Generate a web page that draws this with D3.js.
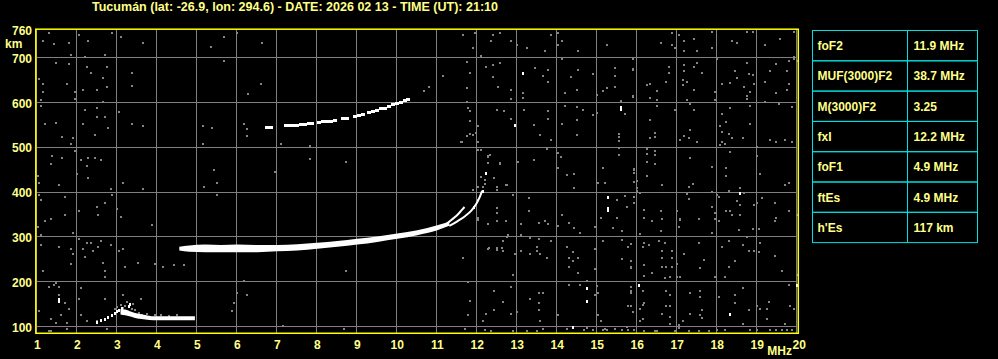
<!DOCTYPE html>
<html lang="en">
<head>
  <meta charset="UTF-8">
  <title>Ionogram Tucumán</title>
  <style>
    body {
      margin: 0;
      padding: 0;
      background-color: #000;
    }
    svg text {
      font-family: "Liberation Sans", Arial, sans-serif;
      font-weight: bold;
      fill: #ffff88;
    }
  </style>
  <script src="https://d3js.org/d3.v7.min.js"></script>
</head>
<body>
  <div id="chart"></div>

  <script>
    const titleText = "Tucumán (lat: -26.9, lon: 294.6) - DATE: 2026 02 13 - TIME (UT): 21:10";

    // axes
    const freqTicks = [1, 2, 3, 4, 5, 6, 7, 8, 9, 10, 11, 12, 13, 14, 15, 16, 17, 18, 19, 20];
    const heightGrid = [100, 200, 300, 400, 500, 600, 700];
    const heightLabels = [100, 200, 300, 400, 500, 600, 700, 760];

    // scaled parameters table
    const paramNames = ["foF2", "MUF(3000)F2", "M(3000)F2", "fxI", "foF1", "ftEs", "h'Es"];
    const paramValues = ["11.9 MHz", "38.7 MHz", "3.25", "12.2 MHz", "4.9 MHz", "4.9 MHz", "117 km"];

    // F2 trace: [freq MHz, lower km, upper km]
    const f2Band = [
      [4.55, 271, 279], [4.8, 268, 282], [5.2, 267, 284], [5.6, 267, 283], [6.0, 267, 284],
      [6.5, 267, 283], [7.0, 269, 283], [7.5, 271, 285], [8.0, 275, 288], [8.5, 279, 292],
      [9.0, 284, 297], [9.5, 290, 302], [10.0, 297, 309], [10.5, 305, 316], [11.0, 316, 327],
      [11.3, 326, 335]
    ];
    // O and X branches near the critical frequencies
    const oBranch = [[11.2, 328], [11.35, 339], [11.5, 350], [11.62, 362], [11.68, 368]];
    const xBranch = [[11.3, 326], [11.5, 336], [11.7, 348], [11.85, 360], [11.98, 376], [12.06, 390], [12.12, 404]];

    // second hop F2 echo: [freq, km]
    const f2Hop2 = [
      [6.75, 546], [6.85, 546], [7.22, 551], [7.3, 551], [7.4, 552], [7.5, 552], [7.6, 553], [7.7, 554],
      [7.8, 555], [7.88, 555], [8.05, 558], [8.15, 559], [8.25, 560], [8.35, 561], [8.45, 562],
      [8.65, 566], [8.75, 567], [8.95, 572], [9.05, 574], [9.15, 575], [9.3, 580], [9.4, 582],
      [9.5, 584], [9.6, 588], [9.7, 590], [9.8, 593], [9.9, 597], [10.0, 600], [10.1, 603],
      [10.2, 606], [10.28, 609]
    ];

    // Es trace
    const esBand = [
      [3.08, 128, 140], [3.2, 126, 139], [3.35, 123, 134], [3.5, 119, 130], [3.7, 117, 127],
      [3.9, 115, 124], [4.2, 115, 124], [4.5, 115, 124], [4.94, 115, 124]
    ];
    const esRise = [
      [2.48, 112], [2.58, 115], [2.68, 118], [2.78, 122], [2.88, 126], [2.95, 131], [3.0, 135],
      [3.05, 138], [3.12, 142], [3.28, 148], [3.32, 152]
    ];

    // scattered grey echoes
    const greyEchoes = [
      [1.28,756],[1.13,738],[1.43,733],[1.78,735],[2.03,753],[2.28,738],[2.88,757],[3.08,748],[3.63,735],[5.68,748],
      [5.33,726],[1.83,708],[2.18,704],[2.68,708],[1.48,690],[1.78,687],[2.25,681],[2.33,668],[2.73,681],[3.38,668],
      [1.03,653],[1.13,643],[1.73,643],[2.13,629],[2.5,629],[2.65,656],[2.73,635],[3.38,638],[1.13,625],[1.08,608],
      [1.93,625],[1.93,610],[2.63,602],[5.68,693],[1.08,593],[2.18,585],[2.48,589],[3.03,580],[2.5,568],[2.68,568],
      [1.18,553],[1.48,556],[2.13,553],[2.78,544],[3.38,553],[3.63,549],[5.13,549],[5.38,544],[1.63,525],[1.88,522],
      [2.43,529],[1.83,509],[5.13,509],[1.93,492],[1.38,482],[1.63,477],[2.08,473],[2.28,477],[2.43,477],[2.58,473],
      [1.33,464],[2.23,460],[1.98,442],[2.28,433],[1.02,438],[1.03,421],[1.53,418],[3.13,422],[3.63,409],[2.83,409],
      [5.43,451],[5.48,421],[5.18,413],[5.48,395],[1.03,395],[1.08,384],[1.68,391],[2.68,378],[2.88,395],[2.03,360],
      [2.48,369],[2.98,364],[2.53,351],[1.68,351],[1.33,342],[1.18,337],[3.08,346],[3.88,328],[1.88,311],[1.08,306],
      [2.03,297],[1.02,324],[1.08,284],[1.53,279],[1.83,275],[1.88,262],[2.23,288],[2.33,288],[2.58,293],[2.83,284],
      [2.13,275],[2.53,279],[2.38,270],[2.18,257],[1.83,241],[2.63,244],[2.68,226],[3.18,235],[3.13,275],[3.03,270],
      [3.53,244],[3.93,241],[4.13,235],[4.43,239],[4.68,239],[2.68,212],[1.13,226],[1.48,199],[1.28,190],[1.53,190],
      [1.43,194],[1.53,172],[1.53,159],[2.08,186],[1.68,153],[1.03,135],[1.78,141],[1.58,126],[1.33,117],[1.73,108],
      [2.08,126],[2.23,113],[2.48,114],[1.48,109],[2.03,163],[2.68,163],[3.13,172],[3.58,163],[5.88,135],[5.93,153],
      [2.73,95],[1.73,95],[1.3,92],[1.34,92],
      [5.99,756],[6.63,735],[6.58,643],[6.28,620],[6.18,553],[6.23,543],[6.23,526],[6.73,544],[7.08,509],[7.83,504],
      [7.83,476],[8.73,468],[6.93,446],[11.63,753],[11.73,692],[11.13,660],[11.73,634],[10.68,628],[10.78,637],[11.73,602],
      [11.78,588],[11.58,513],[11.73,526],[11.83,531],[11.83,559],[8.73,226],[11.63,253],[6.18,203],[6.23,172],[7.13,102],
      [8.68,95],[11.78,200],[11.78,126],[11.68,95],[5.98,177],
      [3.0,145],[3.1,150],[3.15,142],[3.25,155],[3.3,146],[3.38,140],[3.4,152],[3.2,146],[3.45,138],[2.95,140],
      [3.55,132],[3.62,127],[3.75,129],[3.95,126],[4.1,127],[4.3,125],[4.5,126],
      [11.61,514],[12.03,514],[12.09,495],[12.28,482],[12.32,484],[12.28,466],[12.57,466],[12.08,434],[12.03,413],[12.48,413],
      [12.48,406],[12.75,417],[12.9,395],[11.88,407],[12.5,365],[12.03,343],[12.28,331],[12.5,337],[12.75,302],[12.48,276],
      [12.61,276],[12.3,276],[12.15,413],[12.18,420],[12.2,428],
      [11.95,756],[12.38,753],[12.58,757],[12.33,739],[12.83,739],[12.98,729],[13.83,753],[14.03,757],[14.03,730],[14.13,738],
      [14.53,717],[15.23,730],[13.23,722],[13.68,717],[12.08,705],[11.88,722],[11.83,668],[12.23,681],[12.38,684],[12.58,689],
      [12.38,659],[12.53,637],[12.83,629],[12.83,610],[13.13,622],[13.13,611],[13.45,678],[13.78,674],[13.78,647],[13.63,660],
      [14.13,699],[14.33,659],[14.2,623],[14.48,629],[14.53,674],[14.88,665],[14.98,619],[15.13,626],[15.23,634],[15.43,678],
      [15.43,660],[15.43,637],[15.88,674],[15.88,614],[15.58,605],[15.68,576],[15.53,532],[15.53,524],[15.53,516],[15.53,500],
      [15.53,485],[11.83,583],[11.83,561],[11.88,529],[11.98,534],[12.03,549],[12.48,585],[12.68,583],[12.83,565],[13.18,585],
      [13.43,552],[13.58,529],[13.78,583],[13.78,564],[13.83,518],[14.13,553],[14.18,593],[14.48,592],[14.48,562],[14.48,528],
      [14.63,585],[14.88,574],[14.98,577],[12.03,495],[12.28,480],[12.58,464],[12.43,433],[12.73,418],[12.48,413],[12.03,384],
      [13.03,468],[13.43,473],[13.73,497],[14.03,489],[14.08,480],[14.03,455],[14.23,439],[14.43,442],[14.43,410],[15.13,455],
      [15.03,422],[15.18,422],[15.93,452],[15.98,425],[15.98,403],[15.48,384],[15.48,343],[15.68,393],[15.73,369],[15.93,378],
      [15.08,343],[15.38,321],[15.63,315],[13.28,388],[12.88,395],[12.48,366],[12.48,355],[12.28,330],[12.73,337],[13.08,330],
      [13.28,360],[13.53,333],[13.68,337],[13.78,330],[14.03,325],[14.13,351],[14.28,333],[14.43,320],[14.58,311],[14.93,324],
      [12.03,340],[12.78,305],[13.08,306],[13.33,299],[13.53,297],[13.83,293],[12.63,291],[12.63,270],[12.48,273],[12.28,275],
      [12.93,262],[13.08,270],[13.33,262],[13.48,279],[13.48,269],[13.73,253],[13.58,262],[14.23,279],[14.28,253],[14.28,235],
      [14.38,267],[14.53,253],[14.38,247],[14.53,221],[14.93,275],[14.93,230],[15.13,293],[15.63,294],[15.78,279],[15.83,285],
      [15.63,251],[15.83,248],[15.83,232],[12.88,217],[11.83,157],[12.43,180],[12.83,189],[12.63,156],[12.43,138],[12.23,130],
      [12.13,113],[12.83,130],[12.98,133],[13.33,163],[13.53,175],[13.53,153],[13.63,177],[13.53,139],[13.58,113],[14.03,126],
      [14.28,193],[14.58,194],[14.73,203],[14.93,172],[14.98,191],[15.03,175],[15.03,127],[15.08,113],[15.18,95],[15.43,95],
      [15.73,101],[15.83,190],[15.83,180],[15.78,147],[15.88,133],[12.18,93],[12.33,92],[12.88,92],[13.23,92],[13.48,92],
      [13.63,95],[14.23,95],[14.68,93],[14.73,98],[14.88,93],[15.13,93],[15.23,93],[15.63,93],[15.78,93],[15.93,93],
      [16.88,757],[16.88,730],[17.03,753],[17.18,739],[17.43,744],[17.88,758],[18.38,738],[18.48,735],[18.73,758],[18.88,758],
      [19.18,730],[19.58,744],[19.93,758],[19.93,704],[19.93,698],[16.58,735],[16.93,722],[17.18,717],[17.48,717],[17.88,722],
      [15.88,699],[15.88,675],[15.88,616],[16.78,681],[16.78,668],[17.18,684],[17.18,672],[17.43,681],[17.48,690],[17.63,668],
      [17.98,699],[18.73,690],[18.43,672],[18.78,665],[18.88,663],[19.48,687],[19.78,693],[19.33,672],[19.73,672],[19.98,695],
      [16.23,641],[16.33,643],[16.48,628],[16.73,647],[17.13,651],[17.13,641],[17.23,646],[17.43,629],[17.93,625],[18.13,643],
      [18.33,645],[18.48,656],[18.68,637],[18.83,625],[18.73,616],[18.93,643],[19.18,647],[19.48,622],[19.78,643],[19.73,629],
      [16.33,611],[16.48,607],[17.23,607],[17.33,599],[17.93,607],[18.73,610],[19.18,602],[16.48,593],[16.93,584],[17.43,584],
      [18.13,576],[18.33,589],[18.83,593],[19.53,598],[19.88,592],[16.33,562],[16.43,534],[16.43,525],[16.33,522],[17.33,540],
      [17.18,526],[17.28,522],[17.48,513],[17.08,517],[18.13,535],[18.08,549],[18.23,558],[18.28,531],[18.13,513],[18.08,507],
      [18.38,522],[18.63,522],[18.83,553],[18.18,509],[19.33,517],[19.48,512],[19.68,517],[19.88,513],[16.23,498],[16.43,494],
      [16.43,485],[16.23,486],[16.23,468],[16.43,464],[17.33,477],[17.88,458],[18.33,491],[18.98,503],[18.98,482],[18.23,455],
      [18.23,437],[19.08,442],[15.93,451],[15.93,444],[15.93,424],[15.98,410],[16.23,437],[16.63,418],[17.28,413],[17.38,419],
      [17.23,398],[17.28,386],[15.93,391],[15.93,378],[16.08,400],[17.88,401],[18.03,391],[17.98,395],[18.28,404],[18.58,410],
      [18.68,400],[18.48,382],[18.58,373],[18.33,360],[18.58,351],[18.93,373],[18.98,378],[19.13,388],[19.43,376],[19.68,418],
      [19.78,422],[19.78,358],[19.98,351],[16.18,361],[16.18,343],[16.38,337],[16.58,360],[16.63,342],[16.98,360],[17.08,339],
      [17.53,342],[17.88,369],[17.93,355],[17.93,342],[18.03,337],[17.88,311],[18.23,360],[18.38,351],[18.53,317],[18.73,302],
      [18.88,318],[19.03,318],[19.43,337],[19.48,343],[16.08,308],[16.58,315],[17.03,324],[17.08,342],[16.53,293],[16.68,288],
      [15.83,285],[16.18,287],[16.28,284],[16.13,279],[16.63,269],[16.63,254],[16.88,269],[16.88,254],[17.18,264],[17.68,250],
      [17.53,287],[18.28,291],[18.13,279],[18.43,248],[18.63,284],[18.78,270],[19.03,267],[18.93,270],[19.08,288],[19.43,259],
      [15.83,247],[15.83,233],[16.18,239],[16.38,221],[16.63,233],[16.73,235],[16.88,235],[16.98,241],[16.18,214],[16.68,209],
      [16.83,212],[16.98,212],[17.08,212],[17.58,232],[17.93,212],[18.18,212],[18.28,235],[19.63,226],[19.98,217],[15.83,190],
      [15.83,177],[16.13,180],[16.73,180],[16.83,172],[17.33,175],[17.58,180],[17.58,168],[18.03,168],[18.63,186],[18.43,172],
      [19.78,194],[15.83,148],[16.13,150],[16.18,154],[16.08,141],[16.73,148],[16.83,148],[16.83,123],[16.63,129],[17.33,130],
      [17.63,139],[17.58,126],[17.63,120],[18.43,153],[18.78,138],[18.98,147],[19.08,141],[19.23,141],[19.28,156],[19.83,148],
      [19.93,141],[16.13,118],[16.08,113],[16.83,107],[17.03,105],[17.13,113],[18.63,107],[19.23,118],[19.68,107],[15.93,93],
      [16.18,92],[16.43,92],[16.48,92],[16.93,92],[17.03,98],[17.28,92],[17.53,92],[17.78,92],[17.98,93],[18.18,93],
      [18.83,93],[18.98,93],[19.33,93],[19.48,93],[19.63,93],[19.73,93],[19.88,93]
    ];

    // isolated strong echoes
    const whiteEchoes = [
      [13.13,667],[15.6,592],[15.6,586],[12.93,550],[12.23,443],[12.13,403],[11.93,369],[15.28,391],[15.28,366],[15.28,361],
      [14.73,187],[14.73,157],[16.03,194],[14.38,101],[18.58,399],[18.33,129],[1.53,163],[1.53,159],[19.98,194]
    ];

    const width = 998;
    const height = 359;

    const svg = d3.select("#chart")
      .append("svg")
      .attr("width", width)
      .attr("height", height)
      .style("display", "block")
      .style("background", "#000");

    const x = d3.scaleLinear().domain([1, 20]).range([37.3, 797.3]);
    const y = d3.scaleLinear().domain([100, 700]).range([327, 58.3]);

    const px = v => Math.round(v) + 0.5;
    const plotTop = y(765), plotBottom = y(86);

    // title
    svg.append("text")
      .attr("x", 92)
      .attr("y", 11)
      .attr("font-size", "12px")
      .attr("textLength", 406)
      .attr("lengthAdjust", "spacingAndGlyphs")
      .text(titleText);

    // grid
    const grid = svg.append("g")
      .attr("stroke", "#808080")
      .attr("stroke-width", 1)
      .attr("shape-rendering", "crispEdges");

    grid.selectAll(".vline")
      .data(freqTicks)
      .enter().append("line")
      .attr("x1", d => px(x(d)) - 1)
      .attr("x2", d => px(x(d)) - 1)
      .attr("y1", plotTop)
      .attr("y2", plotBottom);

    grid.selectAll(".hline")
      .data(heightGrid)
      .enter().append("line")
      .attr("x1", x(1))
      .attr("x2", x(20))
      .attr("y1", d => px(y(d)) - 1)
      .attr("y2", d => px(y(d)) - 1);

    // noise echoes
    svg.append("g")
      .attr("fill", "#858585")
      .attr("shape-rendering", "crispEdges")
      .selectAll("rect")
      .data(greyEchoes)
      .enter().append("rect")
      .attr("x", d => Math.round(x(d[0])) - 1)
      .attr("y", d => Math.round(y(d[1])) - 1)
      .attr("width", 2)
      .attr("height", 2);

    // traces
    const band = d3.area()
      .x(d => x(d[0]))
      .y0(d => y(d[1]))
      .y1(d => y(d[2]))
      .curve(d3.curveMonotoneX);

    const thin = d3.line()
      .x(d => x(d[0]))
      .y(d => y(d[1]))
      .curve(d3.curveMonotoneX);

    svg.append("path")
      .datum(f2Band)
      .attr("d", band)
      .attr("fill", "#fff");

    [oBranch, xBranch].forEach(branch => {
      svg.append("path")
        .datum(branch)
        .attr("d", thin)
        .attr("fill", "none")
        .attr("stroke", "#fff")
        .attr("stroke-width", 2);
    });

    svg.append("path")
      .datum(esBand)
      .attr("d", band)
      .attr("fill", "#fff");

    svg.append("g")
      .attr("fill", "#fff")
      .attr("shape-rendering", "crispEdges")
      .selectAll("rect")
      .data(f2Hop2)
      .enter().append("rect")
      .attr("x", d => Math.round(x(d[0] - 0.05)))
      .attr("y", d => Math.round(y(d[1])) - 1)
      .attr("width", 4)
      .attr("height", 3);

    svg.append("g")
      .attr("fill", "#fff")
      .attr("shape-rendering", "crispEdges")
      .selectAll("rect")
      .data(esRise.concat(whiteEchoes))
      .enter().append("rect")
      .attr("x", d => Math.round(x(d[0])) - 1)
      .attr("y", d => Math.round(y(d[1])) - 1)
      .attr("width", 2)
      .attr("height", 3);

    // frame
    svg.append("rect")
      .attr("x", x(1) - 1.5)
      .attr("y", plotTop)
      .attr("width", x(20) - x(1) + 2.5)
      .attr("height", plotBottom - plotTop)
      .attr("fill", "none")
      .attr("stroke", "#ffff00")
      .attr("stroke-width", 1.5);

    // axis labels
    svg.selectAll(".ylab")
      .data(heightLabels)
      .enter().append("text")
      .attr("x", 32)
      .attr("y", d => (d === 760 ? 30.5 : y(d)) + 4.5)
      .attr("text-anchor", "end")
      .attr("font-size", "12px")
      .text(d => d);

    svg.append("text")
      .attr("x", 5)
      .attr("y", 48)
      .attr("font-size", "12px")
      .text("km");

    svg.selectAll(".xlab")
      .data(freqTicks)
      .enter().append("text")
      .attr("x", d => x(d) + (d === 20 ? 2 : 0))
      .attr("y", 348.5)
      .attr("text-anchor", "middle")
      .attr("font-size", "12px")
      .text(d => d);

    svg.append("text")
      .attr("x", 792)
      .attr("y", 355)
      .attr("text-anchor", "end")
      .attr("font-size", "12px")
      .text("MHz");

    // parameters table
    const tableX = 812.5, tableY = 30.5, rowH = 30.3, col1 = 95, col2 = 70;
    const table = svg.append("g");

    table.selectAll(".row")
      .data(paramNames)
      .enter().append("rect")
      .attr("x", tableX)
      .attr("y", (d, i) => tableY + i * rowH)
      .attr("width", col1 + col2)
      .attr("height", rowH)
      .attr("fill", "none")
      .attr("stroke", "#00e0e0")
      .attr("stroke-width", 1);

    table.append("line")
      .attr("x1", tableX + col1)
      .attr("x2", tableX + col1)
      .attr("y1", tableY)
      .attr("y2", tableY + paramNames.length * rowH)
      .attr("stroke", "#00e0e0");

    table.selectAll(".pname")
      .data(paramNames)
      .enter().append("text")
      .attr("x", tableX + 5)
      .attr("y", (d, i) => tableY + i * rowH + rowH / 2 + 4.5)
      .attr("font-size", "12px")
      .text(d => d);

    table.selectAll(".pval")
      .data(paramValues)
      .enter().append("text")
      .attr("x", tableX + col1 + 6)
      .attr("y", (d, i) => tableY + i * rowH + rowH / 2 + 4.5)
      .attr("font-size", "12px")
      .text(d => d);
  </script>
</body>
</html>
